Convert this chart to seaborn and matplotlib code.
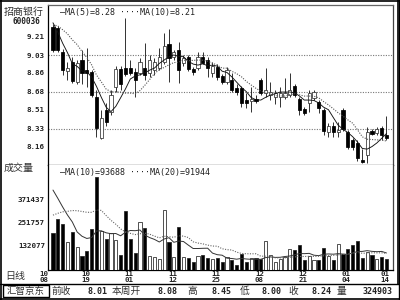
import numpy as np
import pandas as pd
import matplotlib
matplotlib.use("Agg")
import matplotlib.pyplot as plt
from matplotlib.lines import Line2D
from matplotlib.patches import Rectangle
from matplotlib.transforms import blended_transform_factory
import seaborn as sns

# ---------------- data ----------------
dates = [
    "2010-10-08", "2010-10-11", "2010-10-12", "2010-10-13", "2010-10-14", "2010-10-15",
    "2010-10-18", "2010-10-19", "2010-10-20", "2010-10-21", "2010-10-22",
    "2010-10-25", "2010-10-26", "2010-10-27", "2010-10-28", "2010-10-29",
    "2010-11-01", "2010-11-02", "2010-11-03", "2010-11-04", "2010-11-05",
    "2010-11-08", "2010-11-09", "2010-11-10", "2010-11-11", "2010-11-12",
    "2010-11-15", "2010-11-16", "2010-11-17", "2010-11-18", "2010-11-19",
    "2010-11-22", "2010-11-23", "2010-11-24", "2010-11-25", "2010-11-26",
    "2010-11-29", "2010-11-30", "2010-12-01", "2010-12-02", "2010-12-03",
    "2010-12-06", "2010-12-07", "2010-12-08", "2010-12-09", "2010-12-10",
    "2010-12-13", "2010-12-14", "2010-12-15", "2010-12-16", "2010-12-17",
    "2010-12-20", "2010-12-21", "2010-12-22", "2010-12-23", "2010-12-24",
    "2010-12-27", "2010-12-28", "2010-12-29", "2010-12-30", "2010-12-31",
    "2011-01-04", "2011-01-05", "2011-01-06", "2011-01-07",
    "2011-01-10", "2011-01-11", "2011-01-12", "2011-01-13", "2011-01-14",
]
tick_dates = ["2010-10-08", "2010-10-19", "2010-11-01", "2010-11-12", "2010-11-25",
              "2010-12-08", "2010-12-21", "2011-01-04", "2011-01-14"]
tick_labels = ["10\n08", "10\n19", "11\n01", "11\n12", "11\n25",
               "12\n08", "12\n21", "01\n04", "01\n14"]

opens = [9.30, 9.29, 9.06, 8.88, 8.96, 8.77, 8.98, 8.89, 8.87, 8.63,
         8.24, 8.51, 8.49, 8.73, 8.90, 8.91, 8.91, 8.87, 8.86, 8.91,
         8.86, 8.89, 8.91, 8.96, 9.13, 9.01, 9.08, 8.95, 9.01, 8.90,
         8.91, 9.01, 8.98, 8.86, 8.92, 8.83, 8.77, 8.79, 8.72, 8.72,
         8.60, 8.59, 8.61, 8.79, 8.67, 8.65, 8.63, 8.63, 8.63, 8.65,
         8.74, 8.61, 8.52, 8.57, 8.62, 8.58, 8.51, 8.30, 8.36, 8.30,
         8.51, 8.30, 8.22, 8.19, 8.03, 8.08, 8.31, 8.29, 8.34, 8.27]
highs = [9.32, 9.31, 9.09, 8.96, 9.01, 8.98, 9.08, 9.10, 8.89, 8.70,
         8.51, 8.57, 8.70, 8.93, 8.93, 9.38, 8.98, 8.91, 9.00, 9.14,
         9.03, 9.00, 9.10, 9.24, 9.28, 9.08, 9.15, 9.03, 9.03, 8.92,
         9.06, 9.06, 9.01, 8.96, 8.94, 8.85, 8.92, 8.86, 8.75, 8.74,
         8.67, 8.73, 8.65, 8.81, 8.91, 8.77, 8.70, 8.73, 8.81, 8.86,
         8.75, 8.63, 8.54, 8.70, 8.70, 8.60, 8.53, 8.38, 8.39, 8.39,
         8.53, 8.32, 8.24, 8.22, 8.14, 8.35, 8.33, 8.35, 8.36, 8.45]
lows = [9.06, 9.06, 8.84, 8.79, 8.76, 8.75, 8.75, 8.73, 8.63, 8.25,
        8.23, 8.36, 8.46, 8.68, 8.70, 8.83, 8.84, 8.63, 8.84, 8.79,
        8.82, 8.84, 8.89, 8.94, 8.77, 8.98, 8.76, 8.93, 8.88, 8.84,
        8.89, 8.94, 8.82, 8.82, 8.79, 8.75, 8.75, 8.68, 8.65, 8.54,
        8.53, 8.49, 8.57, 8.65, 8.63, 8.60, 8.56, 8.54, 8.61, 8.63,
        8.63, 8.46, 8.46, 8.49, 8.60, 8.48, 8.27, 8.25, 8.25, 8.25,
        8.31, 8.14, 8.13, 8.02, 8.00, 8.00, 8.27, 8.27, 8.22, 8.22]
closes = [9.08, 9.08, 8.89, 8.91, 8.78, 8.95, 8.86, 8.86, 8.65, 8.34,
          8.43, 8.39, 8.65, 8.90, 8.75, 8.85, 8.86, 8.79, 8.96, 8.84,
          8.98, 8.96, 9.01, 9.12, 9.00, 9.06, 8.89, 9.00, 8.90, 8.87,
          9.01, 8.95, 8.91, 8.93, 8.82, 8.77, 8.89, 8.70, 8.68, 8.57,
          8.57, 8.61, 8.59, 8.67, 8.70, 8.68, 8.67, 8.67, 8.67, 8.70,
          8.65, 8.51, 8.48, 8.67, 8.68, 8.53, 8.31, 8.36, 8.30, 8.32,
          8.33, 8.16, 8.16, 8.05, 8.01, 8.30, 8.28, 8.33, 8.27, 8.24]
prior_closes = [9.20, 9.25, 9.30, 9.35, 9.40, 9.52, 9.42, 9.36, 9.30]

volumes = [197600, 270400, 244400, 150800, 202800, 124800, 78000, 104000, 218400, 488800,
           208000, 166400, 197600, 161200, 83200, 312000, 166400, 93600, 254800, 223600,
           78000, 72800, 62400, 317200, 150800, 72800, 228800, 72800, 67600, 46800,
           78000, 83200, 67600, 62400, 67600, 46800, 72800, 57200, 31200, 88400,
           46800, 67600, 67600, 62400, 156000, 83200, 46800, 62400, 72800, 114400,
           110500, 133500, 59800, 78200, 59800, 59800, 119700, 78200, 59800, 142700,
           88600, 116500, 135200, 153800, 65300, 97900, 83900, 60600, 74600, 60480]
prior_volumes = [80000, 90000, 100000, 120000, 140000, 160000, 190000, 220000, 240000, 260000,
                 700000, 694000, 570000, 564000, 645000, 300000, 220000, 170000, 149000]

price_ticks = [9.21, 9.03, 8.86, 8.68, 8.51, 8.33, 8.16]
price_grid = [9.03, 8.68, 8.33]
vol_ticks = [371437, 251757, 132077]

stock_name = "招商银行"
stock_code = "600036"
info_labels = ["前收", "本周开", "高", "低", "收", "量"]
info_values = ["8.01", "8.08", "8.45", "8.00", "8.24", "324903"]

# ---------------- derived ----------------
n = len(dates)
idx = np.arange(n)
df = pd.DataFrame({"i": idx, "open": opens, "high": highs, "low": lows,
                   "close": closes, "vol": volumes})
df["dir"] = np.where(df["close"] > df["open"], "up", "down")
all_c = pd.Series(prior_closes + closes)
df["ma5"] = all_c.rolling(5).mean().values[len(prior_closes):]
df["ma10"] = all_c.rolling(10).mean().values[len(prior_closes):]
all_v = pd.Series(prior_volumes + volumes, dtype=float)
df["vma10"] = all_v.rolling(10).mean().values[len(prior_volumes):]
df["vma20"] = all_v.rolling(20).mean().values[len(prior_volumes):]

# ---------------- figure ----------------
sns.set_theme(style="white")
plt.rcParams['font.family'] = ['Noto Sans CJK SC', 'DejaVu Sans']
W, H = 400, 300
fig = plt.figure(figsize=(4, 3), dpi=100)
fig.patch.set_facecolor("white")

MONO = "DejaVu Sans Mono"
CJK = ["Noto Sans CJK SC", "DejaVu Sans"]
TXT = "#222222"


def fx(x):
    return x / W


def fy(y):
    return 1 - y / H


def hline(x0, x1, y, **kw):
    fig.add_artist(Line2D([fx(x0), fx(x1)], [fy(y), fy(y)], transform=fig.transFigure, **kw))


def vline(x, y0, y1, **kw):
    fig.add_artist(Line2D([fx(x), fx(x)], [fy(y0), fy(y1)], transform=fig.transFigure, **kw))


L, R = 48, 393
ax = fig.add_axes([fx(L), fy(165), (R - L) / W, 160 / H])
axv = fig.add_axes([fx(L), fy(270), (R - L) / W, 105 / H])

xlim = (-1.03, 70.35)

# ---- price panel ----
for g in price_grid:
    ax.axhline(g, color="#777777", lw=0.8, ls=(0, (1, 1.3)), zorder=1)

up = df["dir"] == "up"
ax.vlines(df["i"], df["low"], df["high"], color="#111111", lw=0.6, zorder=2)
body_lo = np.minimum(df["open"], df["close"])
body_h = np.maximum(np.abs(df["close"] - df["open"]), 0.006)
ax.bar(df["i"], body_h, bottom=body_lo, width=0.66,
       color=np.where(up, "white", "black"),
       edgecolor=np.where(up, "#333333", "black"), linewidth=0.55, zorder=3)

sns.lineplot(data=df, x="i", y="ma5", ax=ax, color="#111111", lw=0.65, zorder=4)
sns.lineplot(data=df, x="i", y="ma10", ax=ax, color="#555555", lw=0.8,
             linestyle=(0, (1, 1.3)), zorder=4)

ax.set_xlim(*xlim)
ax.set_ylim(7.985, 9.505)
ax.set_yticks(price_ticks)
ax.set_yticklabels([f"{t:.2f}" for t in price_ticks], fontfamily=MONO,
                   fontweight="bold", fontsize=5.4, color=TXT)
ax.set_xticks([])
ax.set_xlabel("")
ax.set_ylabel("")
ax.tick_params(axis="y", length=0, pad=2.2)
ax.text(0.035, 0.955, f"—MA(5)={df['ma5'].iloc[-1]:.2f} ····MA(10)={df['ma10'].iloc[-1]:.2f}",
        transform=ax.transAxes, fontfamily=MONO, fontsize=6, color=TXT, va="center", ha="left")

# ---- volume panel ----
sns.barplot(data=df, x="i", y="vol", hue="dir", palette={"up": "white", "down": "black"},
            native_scale=True, dodge=False, width=0.66, edgecolor="#222222", linewidth=0.55,
            errorbar=None, legend=False, saturation=1, ax=axv, zorder=3)
sns.lineplot(data=df, x="i", y="vma10", ax=axv, color="#333333", lw=0.7, zorder=4)
sns.lineplot(data=df, x="i", y="vma20", ax=axv, color="#666666", lw=0.8,
             linestyle=(0, (1, 1.3)), zorder=4)
axv.set_xlim(*xlim)
axv.set_ylim(5200, 551200)
axv.set_yticks(vol_ticks)
axv.set_yticklabels([str(v) for v in vol_ticks], fontfamily=MONO,
                    fontweight="bold", fontsize=5.4, color=TXT)
axv.set_xticks([])
axv.set_xlabel("")
axv.set_ylabel("")
axv.tick_params(axis="y", length=0, pad=2.2)
axv.text(0.035, 0.925,
         f"—MA(10)={df['vma10'].iloc[-1]:.0f} ····MA(20)={df['vma20'].iloc[-1]:.0f}",
         transform=axv.transAxes, fontfamily=MONO, fontsize=6, color=TXT, va="center", ha="left")

for a in (ax, axv):
    for s in a.spines.values():
        s.set_color("black")
        s.set_linewidth(0.9)
ax.spines["top"].set_color("#666666")
ax.spines["right"].set_color("#444444")
axv.spines["right"].set_color("#444444")
axv.spines["top"].set_visible(False)

# date labels
tr = blended_transform_factory(axv.transData, fig.transFigure)
for d, lab in zip(tick_dates, tick_labels):
    k = dates.index(d)
    xk = k - 0.3 if k > 0 else k - 1.8
    axv.text(xk, fy(271), lab, transform=tr, ha="center", va="top",
             fontfamily=MONO, fontweight="bold", fontsize=5.3, color=TXT,
             linespacing=0.95, clip_on=False)

# left column texts
fig.text(fx(4), fy(12), stock_name, fontfamily=CJK, fontsize=7.2, color="#333333", va="center", ha="left")
fig.text(fx(26), fy(21.5), stock_code, fontfamily=MONO, fontweight="bold", fontsize=5.6,
         color=TXT, va="center", ha="center")
fig.text(fx(4), fy(168), "成交量", fontfamily=CJK, fontsize=7.2, color="#333333", va="center", ha="left")
fig.text(fx(5), fy(276.5), "日线", fontfamily=CJK, fontsize=7.2, color="#333333", va="center", ha="left")

# bottom info row
hline(0, 400, 284, color="black", lw=1.0)
fig.add_artist(Rectangle((fx(3), fy(297)), 46 / W, 12 / H, transform=fig.transFigure,
                         fill=False, edgecolor="black", lw=1.0))
fig.text(fx(26), fy(291), "汇智京东", fontfamily=CJK, fontsize=6.8, color="#333333",
         va="center", ha="center")
label_x = [52, 112, 187, 240, 288, 337]
value_right = [107, 177, 232, 282, 332, 393]
for lab, lx, val, vx in zip(info_labels, label_x, info_values, value_right):
    fig.text(fx(lx), fy(291), lab, fontfamily=CJK, fontsize=7, color="#333333", va="center", ha="left")
    fig.text(fx(vx), fy(291), val, fontfamily=MONO, fontweight="bold", fontsize=6,
             color=TXT, va="center", ha="right")

# outer frame
hline(0, 400, 0.8, color="black", lw=1.2)
hline(0, 400, 299.3, color="black", lw=1.2)
vline(0.7, 0, 300, color="black", lw=1.2)
vline(397.5, 0, 284, color="black", lw=1.2)
vline(399.3, 0, 300, color="black", lw=1.0)

fig.savefig("out.png", dpi=100, facecolor="white")
